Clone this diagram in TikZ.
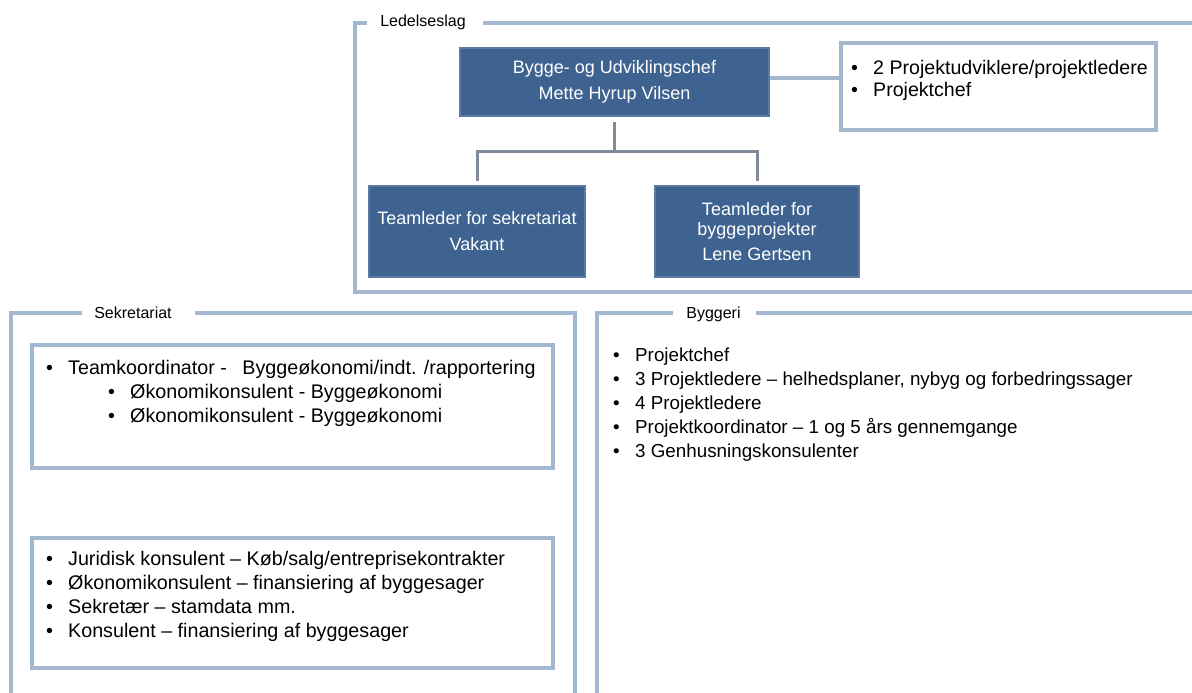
\documentclass[tikz,border=0pt]{standalone}
\usepackage{fontspec}
\setmainfont{Liberation Sans}
\usetikzlibrary{positioning}

\definecolor{boxblue}{HTML}{3E6390}
\definecolor{frameblue}{HTML}{A3B7CF}
\definecolor{linkgray}{HTML}{7F8B9A}

\newcommand{\blt}[1]{\makebox[22pt][l]{\textbullet}#1}

\tikzset{
    chefbox/.style={draw=boxblue!85!white, line width=1.5pt, fill=boxblue, text=white,
        align=center, font=\fontsize{18}{20}\selectfont, inner sep=0pt},
    framelbl/.style={font=\fontsize{16}{18}\selectfont, inner sep=0pt},
    frameline/.style={draw=frameblue, line width=3.5pt},
    listbox/.style={draw=frameblue, line width=3.5pt, inner sep=0pt},
    listtxt/.style={align=left, font=\fontsize{19.7}{24}\selectfont, inner sep=0pt, anchor=north west},
    link/.style={draw=linkgray, line width=3pt},
}

\begin{document}
\begin{tikzpicture}[x=1pt,y=-1pt]
            \useasboundingbox (0,0) rectangle (1192,693);
            \clip (0,0) rectangle (1192,693);

            % Ledelseslag
            \node[framelbl] (ledlbl) at (423,22) {Ledelseslag};
            \draw[frameline] (367,23) -- (355,23) -- (355,292) -- (1200,292);
            \draw[frameline] (483,23) -- (1200,23);

            \node[chefbox, minimum width=309, minimum height=68] (chef) at (614.5,82)
                {Bygge- og Udviklingschef\\[6pt]Mette Hyrup Vilsen};
            \node[listbox, minimum width=315, minimum height=87] (ledlist) at (998.5,86.5) {};
            \node[listtxt, font=\fontsize{19.6}{22}\selectfont] (ledtxt) at (851,60)
                {\blt{2 Projektudviklere/projektledere}\\\blt{Projektchef}};
            \draw[frameline] ([yshift=4pt]chef.east) -- ([yshift=4pt]chef.east -| ledlist.west);

            \node[chefbox, minimum width=216, minimum height=91] (teamsek) at (477,231.5)
                {Teamleder for sekretariat\\[6pt]Vakant};
            \node[chefbox, minimum width=204, minimum height=91] (teambyg) at (757,231.5)
                {Teamleder for\\byggeprojekter\\[5pt]Lene Gertsen};

            \coordinate (split) at (614.5,151);
            \draw[link, shorten <=5pt] (chef.south) -- (split);
            \draw[link, shorten >=4pt] (split) -| (teamsek.north);
            \draw[link, shorten >=4pt] (split) -| (teambyg.north);

            % Sekretariat
            \node[framelbl] (seklbl) at (133,313) {Sekretariat};
            \draw[frameline] (82,313) -- (11,313) -- (11,700);
            \draw[frameline] (195,313) -- (575,313) -- (575,700);

            \node[listbox, minimum width=521, minimum height=123] (sekbox1) at (292.5,406.5) {};
            \node[listtxt] (sektxt1) at (46,360)
                {\blt{Teamkoordinator -\hspace{10pt} Byggeøkonomi/indt. /rapportering}\\
                 \hspace*{62pt}\blt{Økonomikonsulent - Byggeøkonomi}\\
                 \hspace*{62pt}\blt{Økonomikonsulent - Byggeøkonomi}};

            \node[listbox, minimum width=521, minimum height=130] (sekbox2) at (292.5,603) {};
            \node[listtxt] (sektxt2) at (46,551)
                {\blt{Juridisk konsulent – Køb/salg/entreprisekontrakter}\\
                 \blt{Økonomikonsulent – finansiering af byggesager}\\
                 \blt{Sekretær – stamdata mm.}\\
                 \blt{Konsulent – finansiering af byggesager}};

            % Byggeri
            \node[framelbl] (byglbl) at (713.5,314) {Byggeri};
            \draw[frameline] (673,313) -- (597,313) -- (597,700);
            \draw[frameline] (756,313) -- (1200,313);

            \node[listtxt, font=\fontsize{18.8}{24}\selectfont] (bygtxt) at (613,348)
                {\blt{Projektchef}\\
                 \blt{3 Projektledere – helhedsplaner, nybyg og forbedringssager}\\
                 \blt{4 Projektledere}\\
                 \blt{Projektkoordinator – 1 og 5 års gennemgange}\\
                 \blt{3 Genhusningskonsulenter}};
        \end{tikzpicture}
\end{document}
